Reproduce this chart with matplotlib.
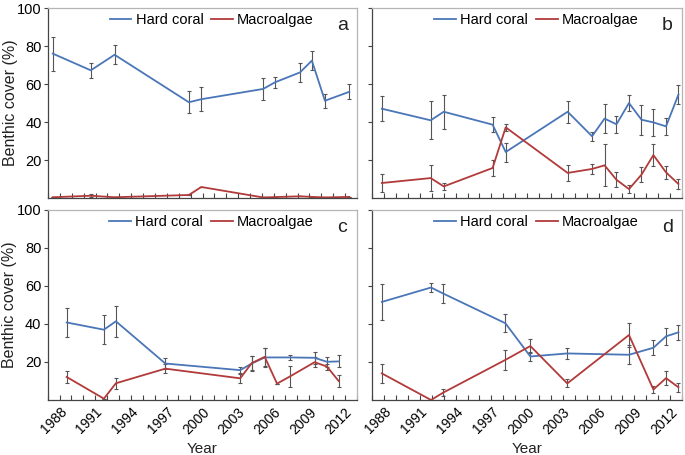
import numpy as np
import matplotlib.pyplot as plt
from matplotlib.ticker import MultipleLocator

plt.rcParams['font.family'] = ['Liberation Sans', 'DejaVu Sans']

# --- Data (year of survey, % cover, +/- error) ---
# panel a
a_years = [1987.4, 1990.6, 1992.6, 1998.85, 1999.9, 2005.1, 2006.1, 2008.2, 2009.2, 2010.3, 2012.35]
a_coral = [76, 67.2, 75.4, 50.4, 52, 57.4, 60.9, 66.1, 72.3, 51.2, 55.9]
a_coral_err = [9, 4, 5, 5.8, 6.2, 6, 3, 5, 5, 3.7, 4]
a_algae = [0.4, 1.2, 0.4, 1.6, 5.8, 0.3, 0.5, 0.9, 0.6, 0.3, 0.6]
a_algae_err = [0, 0.8, 0, 0, 0, 0, 0, 0, 0, 0, 0]

# panel b
b_years = [1987.8, 1991.9, 1993.0, 1997.1, 1998.2, 2003.4, 2005.45, 2006.5, 2007.5, 2008.55,
           2009.6, 2010.6, 2011.66, 2012.7]
b_coral = [47, 40.9, 45.4, 38.6, 24.2, 45.4, 32.5, 41.8, 38.8, 50, 41.2, 39.8, 37.7, 54.4]
b_coral_err = [6.7, 10, 9, 4, 5, 5.8, 2.4, 7.6, 4.5, 4, 8, 7, 4.5, 5]
b_algae = [7.9, 10.5, 6.1, 15.8, 37.2, 13.2, 15.3, 17.2, 9.6, 4.7, 12.3, 22.6, 13.5, 7.4]
b_algae_err = [4.6, 6.7, 1.8, 4.4, 2, 4, 2.6, 11, 4, 2.2, 3.8, 6, 3.5, 2.4]

# panel c
c_coral_years = [1988.6, 1991.73, 1992.74, 1996.9, 2003.2, 2004.17, 2005.26, 2007.36, 2009.46,
                 2010.5, 2011.48]
c_coral = [40.8, 37, 41.4, 19.2, 15.7, 19.2, 22.4, 22.4, 22.2, 20.1, 20.3]
c_coral_err = [7.6, 7.5, 8.3, 2.9, 1.6, 3.7, 5, 1.4, 3, 2.5, 3.2]
c_algae_years = [1988.6, 1991.73, 1992.74, 1996.9, 2003.2, 2004.17, 2005.26, 2006.3, 2007.36,
                 2009.46, 2010.5, 2011.48]
c_algae = [12.1, 0.7, 8.8, 16.5, 11.4, 19.4, 22.7, 8.6, 12.3, 19.9, 17.6, 10]
c_algae_err = [2.9, 0, 3, 2.5, 2.2, 3.7, 4.8, 0, 5.5, 2.5, 1.6, 3.2]

# panel d
d_years = [1987.8, 1991.93, 1992.96, 1998.17, 2000.27, 2003.37, 2008.55, 2010.6, 2011.66, 2012.7]
d_coral = [51.6, 59.2, 56, 40.4, 22.9, 24.5, 23.8, 27.5, 33.5, 35.6]
d_coral_err = [9.7, 2.4, 4.8, 4.6, 2.4, 2.8, 5.1, 4, 4.6, 4]
d_algae = [14, 0, 3.9, 21.1, 28.4, 8.7, 34.2, 5.5, 11.5, 6.7]
d_algae_err = [5.2, 0, 1.7, 5.1, 3.7, 2.1, 6.5, 1.6, 3.5, 2.5]

year_labels = [1988, 1991, 1994, 1997, 2000, 2003, 2006, 2009, 2012]

blue = '#4a76b8'
red = '#b23a3a'
err_col = '#555555'

fig = plt.figure(figsize=(6.85, 4.55), dpi=100)
ax_a = fig.add_axes([0.0701, 0.5648, 0.4511, 0.4176])
ax_b = fig.add_axes([0.5435, 0.5648, 0.4521, 0.4176])
ax_c = fig.add_axes([0.0696, 0.1209, 0.4511, 0.4176])
ax_d = fig.add_axes([0.5435, 0.1209, 0.4521, 0.4176])

panels = [
    (ax_a, 'a', a_years, a_coral, a_coral_err, a_years, a_algae, a_algae_err),
    (ax_b, 'b', b_years, b_coral, b_coral_err, b_years, b_algae, b_algae_err),
    (ax_c, 'c', c_coral_years, c_coral, c_coral_err, c_algae_years, c_algae, c_algae_err),
    (ax_d, 'd', d_years, d_coral, d_coral_err, d_years, d_algae, d_algae_err),
]

for ax, letter, yc, coral, cerr, ya, algae, aerr in panels:
    ax.errorbar(yc, coral, yerr=cerr, fmt='none', ecolor=err_col, elinewidth=0.8,
                capsize=1.6, capthick=0.8, zorder=1)
    ax.errorbar(ya, algae, yerr=aerr, fmt='none', ecolor=err_col, elinewidth=0.8,
                capsize=1.6, capthick=0.8, zorder=1)
    ax.plot(yc, coral, color=blue, lw=1.3, label='Hard coral', zorder=2)
    ax.plot(ya, algae, color=red, lw=1.3, label='Macroalgae', zorder=2)

    ax.set_xlim(1987, 2013)
    ax.set_ylim(0, 100)
    ax.set_yticks([20, 40, 60, 80, 100])
    ax.set_xticks(year_labels)
    ax.xaxis.set_minor_locator(MultipleLocator(1))
    ax.tick_params(axis='x', which='both', direction='in', length=3.5, width=0.8,
                   color='#444444', labelsize=10)
    ax.tick_params(axis='y', direction='out', length=3, width=0.8, color='#444444',
                   labelsize=10.5, pad=1.5)

    for side in ['left', 'bottom']:
        ax.spines[side].set_color('#444444')
        ax.spines[side].set_linewidth(0.9)
    for side in ['top', 'right']:
        ax.spines[side].set_color('#b5b5b5')
        ax.spines[side].set_linewidth(0.9)

    ax.legend(loc='center', bbox_to_anchor=(0.53, 0.937), ncol=2, frameon=False,
              fontsize=10.5, handlelength=1.5, handletextpad=0.3, columnspacing=0.5,
              borderpad=0, borderaxespad=0)
    ax.text(0.953, 0.91, letter, transform=ax.transAxes, fontsize=14,
            ha='center', va='center', color='#222222')

# tick labels only on the outer axes
for ax in [ax_a, ax_b]:
    ax.tick_params(axis='x', labelbottom=False)
for ax in [ax_b, ax_d]:
    ax.tick_params(axis='y', labelleft=False)
for ax in [ax_c, ax_d]:
    ax.set_xticks(year_labels, [str(y) for y in year_labels], rotation=45,
                  ha='right', rotation_mode='anchor')
    ax.set_xlabel('Year', fontsize=11, color='#222222', labelpad=4)
for ax in [ax_a, ax_c]:
    ax.set_ylabel('Benthic cover (%)', fontsize=11.5, color='#222222', va='center')
    ax.yaxis.set_label_coords(-0.122, 0.5)

plt.savefig('out.png', dpi=100)
